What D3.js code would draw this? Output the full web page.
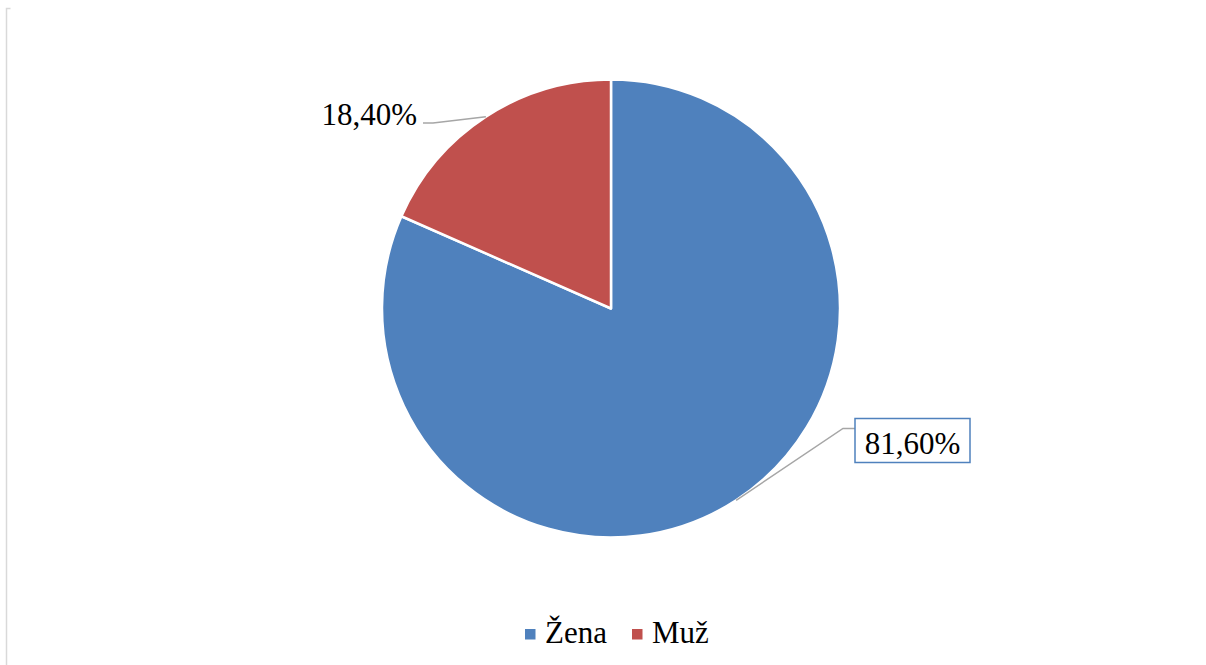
<!DOCTYPE html>
<html>
<head>
<meta charset="utf-8">
<script src="https://cdn.jsdelivr.net/npm/d3@7"></script>
<style>
  body { margin: 0; background: #fff; }
  svg { display: block; }
</style>
</head>
<body>
<svg id="chart" width="1206" height="665"></svg>
<script>
// data
let categories = ["Žena", "Muž"];
let values = [81.6, 18.4];
let labels = ["81,60%", "18,40%"];
let colors = ["#4F81BD", "#C0504D"];

function drawPie() {
    let canvas = d3.select("#chart");

    let cx = 611;
    let cy = 308.5;
    let radius = 229;
    let fontFamily = "'Liberation Serif', 'Times New Roman', serif";

    // left frame edge
    canvas.append("path")
        .attr("d", "M10.5,8.5 H6.5 V665")
        .attr("fill", "none")
        .attr("stroke", "#d9d9d9")
        .attr("stroke-width", 1.5);

    let data = categories.map((c, i) => ({ name: c, value: values[i], label: labels[i], color: colors[i] }));

    let pie = d3.pie()
        .value(d => d.value)
        .sort(null);
    let arc = d3.arc()
        .innerRadius(0)
        .outerRadius(radius);

    let slices = pie(data);

    let g = canvas.append("g")
        .attr("transform", "translate(" + cx + "," + cy + ")");

    g.selectAll("path.slice")
        .data(slices)
        .enter()
        .append("path")
        .attr("class", "slice")
        .attr("d", arc)
        .attr("fill", d => d.data.color)
        .attr("stroke", "#fff")
        .attr("stroke-width", 2.5)
        .attr("stroke-linejoin", "round");

    // point on the outer edge at the middle of each slice
    let edgePoint = d => {
        let a = (d.startAngle + d.endAngle) / 2;
        return [radius * Math.sin(a), -radius * Math.cos(a)];
    };

    // label for Žena (boxed, lower right)
    let s0 = slices[0];
    let p0 = edgePoint(s0);
    let box0 = { x: 244, y: 110, w: 115, h: 44 };
    g.append("path")
        .attr("d", "M" + p0[0] + "," + p0[1] + " L" + (box0.x - 12) + "," + (box0.y + 10) + " H" + box0.x)
        .attr("fill", "none")
        .attr("stroke", "#a6a6a6")
        .attr("stroke-width", 1.5);
    g.append("rect")
        .attr("x", box0.x)
        .attr("y", box0.y)
        .attr("width", box0.w)
        .attr("height", box0.h)
        .attr("fill", "#fff")
        .attr("stroke", "#4F81BD")
        .attr("stroke-width", 1.5);
    g.append("text")
        .attr("x", box0.x + box0.w / 2)
        .attr("y", box0.y + 35)
        .attr("text-anchor", "middle")
        .attr("font-family", fontFamily)
        .attr("font-size", 31)
        .attr("fill", "#000")
        .text(s0.data.label);

    // label for Muž (upper left)
    let s1 = slices[1];
    let p1 = edgePoint(s1);
    g.append("path")
        .attr("d", "M" + p1[0] + "," + p1[1] + " L" + (-178) + "," + (-185.5) + " H" + (-188))
        .attr("fill", "none")
        .attr("stroke", "#a6a6a6")
        .attr("stroke-width", 1.5);
    g.append("text")
        .attr("x", -194)
        .attr("y", -184)
        .attr("text-anchor", "end")
        .attr("font-family", fontFamily)
        .attr("font-size", 31)
        .attr("fill", "#000")
        .text(s1.data.label);

    // legend
    let legendX = [525, 632];
    let legend = canvas.selectAll("g.legend")
        .data(data)
        .enter()
        .append("g")
        .attr("class", "legend")
        .attr("transform", (d, i) => "translate(" + legendX[i] + ",629)");
    legend.append("rect")
        .attr("width", 10.5)
        .attr("height", 10.5)
        .attr("fill", d => d.color);
    legend.append("text")
        .attr("x", 20)
        .attr("y", 14)
        .attr("font-family", fontFamily)
        .attr("font-size", 31)
        .attr("fill", "#000")
        .text(d => d.name);
}

drawPie();
</script>
</body>
</html>
